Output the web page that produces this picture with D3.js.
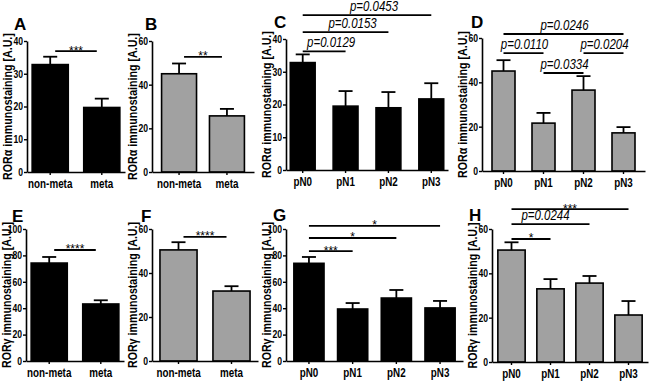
<!DOCTYPE html>
<html><head><meta charset="utf-8">
<script src="https://cdn.jsdelivr.net/npm/d3@7"></script>
<style>
body{margin:0;background:#fff}
svg{display:block}
text{font-family:"Liberation Sans",Arial,sans-serif;}
</style></head><body>
<svg id="chart" width="650" height="386"></svg>
<script>
// ---------- DATA ----------
const metaGroups = ["non-meta", "meta"];
const stageGroups = ["pN0", "pN1", "pN2", "pN3"];

const ticks40 = [0, 10, 20, 30, 40];
const ticks60 = [0, 20, 40, 60];
const ticks100 = [0, 20, 40, 60, 80, 100];

const labelAlpha = "RORα immunostaining [A.U.]";
const labelGamma = "RORγ immunostaining [A.U.]";

const meanA = [32.8, 19.7];       const semA = [2.4, 2.7];
const meanB = [45.0, 25.7];       const semB = [4.7, 3.2];
const meanC = [32.8, 19.5, 19.0, 21.7]; const semC = [2.5, 4.6, 4.8, 4.8];
const meanD = [45.1, 21.6, 36.5, 17.2]; const semD = [4.9, 4.6, 6.3, 2.6];
const meanE = [74.2, 43.2];       const semE = [4.6, 2.8];
const meanF = [50.5, 31.8];       const semF = [3.5, 2.2];
const meanG = [74.0, 39.4, 47.7, 40.2]; const semG = [4.8, 4.5, 6.1, 5.3];
const meanH = [50.5, 33.0, 35.6, 21.2]; const semH = [3.5, 4.4, 3.2, 6.3];

// comparisons: [from index, to index, bracket level (axis units), label]
const sigA = [[0, 1, 36.9, "***"]];
const sigB = [[0, 1, 52.7, "**"]];
const sigC = [[0, 1, 36.2, "p=0.0129"], [0, 2, 42.1, "p=0.0153"], [0, 3, 47.3, "p=0.0453"]];
const sigD = [[0, 1, 53.2, "p=0.0110"], [1, 2, 44.2, "p=0.0334"], [2, 3, 53.2, "p=0.0204"], [0, 3, 61.8, "p=0.0246"]];
const sigE = [[0, 1, 84.1, "****"]];
const sigF = [[0, 1, 56.4, "****"]];
const sigG = [[0, 1, 83.3, "***"], [0, 2, 93.2, "*"], [0, 3, 102.3, "*"]];
const sigH = [[0, 1, 55.5, "*"], [0, 2, 62.2, "p=0.0244"], [0, 3, 69.0, "***"]];

// ---------- LAYOUT ----------
const GRAY = "#a1a1a1";
const NARROW = 0.82;
const panels = [
  {id:"A", cats:metaGroups, mean:meanA, sem:semA, sig:sigA, ticks:ticks40, ylab:labelAlpha, fill:"#000",
   x0:27, x1:125, pi:.3, po:.1, y0:172, y1:41, inset:5, lx:14, ly:30, pdx:0},
  {id:"B", cats:metaGroups, mean:meanB, sem:semB, sig:sigB, ticks:ticks60, ylab:labelAlpha, fill:GRAY,
   x0:152, x1:254, pi:.27, po:.2, y0:172, y1:41, inset:5, lx:145, ly:30, pdx:0},
  {id:"C", cats:stageGroups, mean:meanC, sem:semC, sig:sigC, ticks:ticks40, ylab:labelAlpha, fill:"#000",
   x0:286, x1:448, pi:.42, po:.1, y0:170, y1:39, inset:0, lx:274, ly:28, pdx:7},
  {id:"D", cats:stageGroups, mean:meanD, sem:semD, sig:sigD, ticks:ticks60, ylab:labelAlpha, fill:GRAY,
   x0:482, x1:645, pi:.425, po:.25, y0:171, y1:38, inset:0, lx:471, ly:28, pdx:1},
  {id:"E", cats:metaGroups, mean:meanE, sem:semE, sig:sigE, ticks:ticks100, ylab:labelGamma, fill:"#000",
   x0:26, x1:124, pi:.3, po:.1, y0:361, y1:229, inset:5, lx:12, ly:222, pdx:0},
  {id:"F", cats:metaGroups, mean:meanF, sem:semF, sig:sigF, ticks:ticks60, ylab:labelGamma, fill:GRAY,
   x0:152, x1:258, pi:.3, po:.15, y0:361, y1:229, inset:5, lx:141, ly:222, pdx:0},
  {id:"G", cats:stageGroups, mean:meanG, sem:semG, sig:sigG, ticks:ticks100, ylab:labelGamma, fill:"#000",
   x0:286, x1:463, pi:.31, po:.18, y0:361, y1:229, inset:0, lx:273, ly:221, pdx:0},
  {id:"H", cats:stageGroups, mean:meanH, sem:semH, sig:sigH, ticks:ticks60, ylab:labelGamma, fill:GRAY,
   x0:492, x1:648, pi:.3, po:.15, y0:362, y1:229, inset:0, lx:469, ly:221, pdx:-5}
];

// compress text horizontally (emulates a narrow typeface)
function narrow(sel) {
  sel.each(function () {
    const t = d3.select(this);
    const xv = +(t.attr("x") || 0);
    t.attr("x", 0).attr("transform", `translate(${xv},0) scale(${NARROW},1)`);
  });
}

const svg = d3.select("#chart");

panels.forEach(p => {
  const g = svg.append("g");
  const ymax = p.ticks[p.ticks.length - 1];
  const x = d3.scaleBand().domain(p.cats).range([p.x0, p.x1]).paddingInner(p.pi).paddingOuter(p.po);
  const y = d3.scaleLinear().domain([0, ymax]).range([p.y0, p.y1]);

  // bars
  g.selectAll("rect.bar").data(p.cats).join("rect")
    .attr("x", d => x(d)).attr("width", x.bandwidth())
    .attr("y", (d, i) => y(p.mean[i])).attr("height", (d, i) => p.y0 - y(p.mean[i]))
    .attr("fill", p.fill).attr("stroke", "#000").attr("stroke-width", 1.6);

  // error bars (upper only)
  const cap = 7;
  p.cats.forEach((c, i) => {
    const cx = x(c) + x.bandwidth() / 2;
    g.append("line").attr("x1", cx).attr("x2", cx)
      .attr("y1", y(p.mean[i])).attr("y2", y(p.mean[i] + p.sem[i]))
      .attr("stroke", "#000").attr("stroke-width", 1.8);
    g.append("line").attr("x1", cx - cap).attr("x2", cx + cap)
      .attr("y1", y(p.mean[i] + p.sem[i])).attr("y2", y(p.mean[i] + p.sem[i]))
      .attr("stroke", "#000").attr("stroke-width", 1.8);
  });

  // y axis
  const ya = g.append("g").attr("transform", `translate(${p.x0},0)`)
    .call(d3.axisLeft(y).tickValues(p.ticks).tickSize(3).tickSizeOuter(0).tickPadding(1).tickFormat(d3.format("d")));
  ya.select(".domain").attr("stroke-width", 1.6);
  ya.selectAll(".tick line").attr("stroke-width", 1.4);
  ya.selectAll("text").attr("font-family", null).attr("font-size", 10.5).attr("font-weight", "bold").attr("fill", "#000").call(narrow);
  ya.attr("font-family", null);

  // x axis
  const xa = g.append("g").attr("transform", `translate(0,${p.y0})`)
    .call(d3.axisBottom(x).tickSize(3).tickSizeOuter(0).tickPadding(4));
  xa.select(".domain").attr("stroke-width", 1.6);
  xa.selectAll(".tick line").attr("stroke-width", 1.4);
  xa.selectAll("text").attr("font-size", 12).attr("font-weight", "bold").attr("fill", "#000").call(narrow);
  xa.attr("font-family", null);

  // y label
  g.append("text")
    .attr("transform", `translate(${p.x0 - 15},${(p.y0 + p.y1) / 2}) rotate(-90) scale(${NARROW},1)`)
    .attr("text-anchor", "middle").attr("font-size", 13).attr("font-weight", "bold")
    .text(p.ylab);

  // panel letter
  g.append("text").attr("x", p.lx).attr("y", p.ly)
    .attr("font-size", 17).attr("font-weight", "bold").text(p.id);

  // significance brackets
  p.sig.forEach(([a, b, lev, lab]) => {
    const xa1 = x(p.cats[a]) + x.bandwidth() / 2 + p.inset;
    const xb1 = x(p.cats[b]) + x.bandwidth() / 2 - p.inset;
    const ly = y(lev);
    g.append("line").attr("x1", xa1).attr("x2", xb1).attr("y1", ly).attr("y2", ly)
      .attr("stroke", "#000").attr("stroke-width", 1.8);
    const isP = lab.startsWith("p");
    g.append("text")
      .attr("x", (xa1 + xb1) / 2 + (isP ? p.pdx : 0))
      .attr("y", isP ? ly - 4.5 : ly + 3.5)
      .attr("text-anchor", "middle")
      .attr("font-size", isP ? 14 : 12)
      .attr("font-style", isP ? "italic" : "normal")
      .text(lab)
      .call(isP ? narrow : () => {});
  });
});
</script>
</body></html>
